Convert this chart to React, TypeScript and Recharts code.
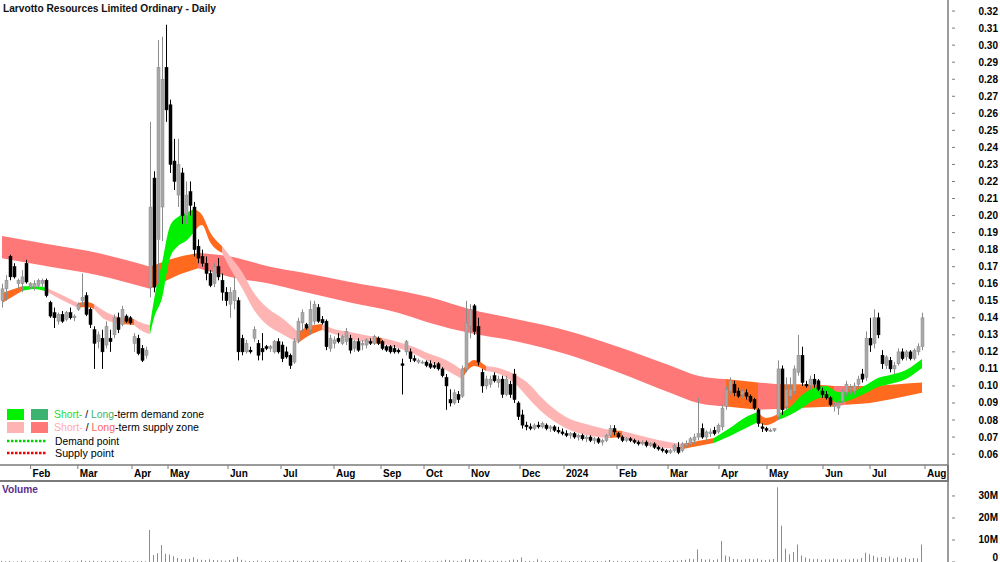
import React from 'react';
import { ComposedChart, Bar, Area, XAxis, YAxis } from 'recharts';

const TITLE = 'Larvotto Resources Limited Ordinary - Daily';

// month tick positions on the bar index scale
const MONTH_TICKS = [7.15, 18.95, 32.5, 41.5, 56.5, 69.75, 83, 94.75, 105.5, 116.75, 129.5, 140.5, 153.75, 166.5, 179.25, 191.25, 205.25, 217, 230.75];
const MONTH_LABELS = ['Feb', 'Mar', 'Apr', 'May', 'Jun', 'Jul', 'Aug', 'Sep', 'Oct', 'Nov', 'Dec', '2024', 'Feb', 'Mar', 'Apr', 'May', 'Jun', 'Jul', 'Aug'];

const PRICE_TICKS = [0.06, 0.07, 0.08, 0.09, 0.1, 0.11, 0.12, 0.13, 0.14, 0.15, 0.16, 0.17, 0.18, 0.19, 0.2, 0.21, 0.22, 0.23, 0.24, 0.25, 0.26, 0.27, 0.28, 0.29, 0.3, 0.31, 0.32];
const VOLUME_TICKS = [0, 10, 20, 30];

// [open, high, low, close]
const PRICE_BARS = [
  [.150,.160,.146,.157],[.157,.165,.150,.162],[.176,.177,.162,.164],[.170,.172,.163,.164],[.160,.163,.157,.162],
  [.160,.168,.155,.164],[.172,.174,.160,.161],[.158,.161,.157,.160],[.158,.162,.156,.160],[.159,.163,.158,.162],
  [.160,.163,.158,.162],[.162,.163,.152,.153],[.149,.150,.140,.141],[.143,.146,.134,.140],[.138,.143,.136,.142],
  [.142,.144,.137,.138],[.139,.144,.138,.143],[.143,.146,.139,.140],[.140,.142,.138,.141],[.145,.149,.144,.148],
  [.150,.166,.147,.152],[.153,.155,.141,.142],[.145,.146,.134,.136],[.133,.135,.110,.125],[.126,.132,.122,.130],
  [.128,.133,.110,.120],[.124,.138,.122,.135],[.128,.133,.120,.126],[.130,.142,.128,.140],[.140,.143,.131,.133],
  [.136,.147,.135,.145],[.141,.142,.137,.138],[.140,.141,.136,.137],[.125,.131,.120,.129],[.128,.130,.118,.119],
  [.122,.124,.114,.115],[.118,.123,.116,.121],[.158,.255,.152,.205],[.222,.226,.155,.158],[.186,.303,.160,.287],
  [.205,.305,.185,.280],[.287,.312,.255,.262],[.265,.268,.225,.230],[.232,.245,.215,.220],[.212,.245,.205,.230],
  [.225,.228,.195,.200],[.200,.220,.195,.212],[.214,.220,.200,.206],[.205,.208,.176,.180],[.182,.186,.172,.175],
  [.176,.180,.170,.172],[.172,.176,.162,.166],[.166,.168,.158,.159],[.160,.172,.158,.170],[.170,.175,.162,.164],
  [.162,.166,.150,.155],[.155,.158,.147,.150],[.148,.158,.140,.155],[.150,.164,.145,.156],[.150,.152,.115,.120],
  [.128,.130,.118,.120],[.120,.127,.119,.125],[.121,.123,.119,.120],[.128,.135,.126,.133],[.125,.127,.115,.118],
  [.122,.131,.115,.120],[.123,.124,.121,.122],[.122,.124,.120,.123],[.120,.127,.119,.126],[.126,.128,.119,.120],
  [.124,.126,.114,.116],[.120,.123,.116,.117],[.118,.119,.110,.112],[.114,.128,.113,.126],[.127,.140,.125,.138],
  [.137,.145,.132,.143],[.136,.137,.133,.134],[.133,.150,.130,.145],[.138,.150,.136,.148],[.146,.148,.137,.138],
  [.139,.141,.136,.137],[.138,.139,.121,.123],[.122,.130,.120,.128],[.125,.129,.122,.127],[.128,.131,.125,.126],
  [.125,.130,.124,.129],[.126,.134,.124,.132],[.128,.130,.119,.121],[.122,.127,.120,.126],[.126,.128,.120,.121],
  [.124,.127,.121,.125],[.124,.128,.122,.127],[.126,.128,.124,.125],[.125,.130,.124,.129],[.128,.129,.124,.125],
  [.126,.127,.121,.122],[.123,.124,.120,.121],[.123,.124,.119,.120],[.122,.124,.119,.120],[.121,.122,.119,.120],
  [.113,.116,.095,.112],[.120,.127,.118,.126],[.120,.122,.114,.116],[.116,.118,.114,.115],[.114,.116,.113,.115],
  [.114,.115,.113,.114],[.114,.115,.111,.112],[.113,.115,.110,.111],[.112,.114,.110,.111],[.113,.114,.109,.110],
  [.110,.111,.105,.106],[.105,.107,.086,.100],[.092,.098,.088,.090],[.090,.098,.089,.096],[.095,.097,.090,.092],
  [.094,.112,.093,.110],[.110,.150,.108,.137],[.135,.148,.128,.145],[.147,.148,.130,.132],[.135,.140,.112,.114],
  [.108,.110,.096,.100],[.100,.106,.098,.104],[.101,.106,.099,.104],[.106,.108,.102,.103],[.102,.106,.099,.104],
  [.104,.106,.093,.095],[.095,.106,.094,.104],[.101,.103,.093,.095],[.107,.110,.090,.092],[.090,.091,.080,.082],
  [.083,.086,.075,.077],[.077,.079,.074,.076],[.076,.078,.074,.075],[.075,.078,.074,.077],[.077,.079,.075,.076],
  [.076,.079,.075,.078],[.077,.078,.074,.075],[.075,.077,.073,.076],[.076,.077,.073,.074],[.074,.076,.072,.073],
  [.073,.075,.071,.072],[.072,.074,.070,.071],[.071,.073,.069,.072],[.072,.073,.069,.070],[.070,.072,.068,.071],
  [.071,.072,.068,.069],[.069,.071,.067,.070],[.070,.071,.067,.068],[.068,.070,.066,.069],[.069,.070,.066,.067],
  [.067,.069,.065,.068],[.068,.072,.067,.071],[.071,.077,.070,.075],[.075,.077,.071,.073],[.072,.073,.069,.070],
  [.070,.071,.067,.068],[.068,.070,.067,.069],[.069,.070,.067,.068],[.068,.069,.066,.067],[.067,.068,.065,.066],
  [.066,.068,.065,.067],[.067,.068,.064,.065],[.065,.067,.064,.066],[.066,.067,.063,.064],[.064,.065,.062,.063],
  [.063,.064,.061,.062],[.062,.063,.060,.061],[.061,.063,.060,.062],[.062,.066,.061,.065],[.064,.067,.060,.061],
  [.062,.067,.061,.066],[.065,.068,.064,.066],[.066,.070,.065,.069],[.068,.072,.066,.070],[.070,.093,.068,.072],
  [.075,.078,.069,.070],[.070,.074,.068,.073],[.072,.075,.070,.073],[.074,.076,.071,.072],[.073,.078,.072,.077],
  [.076,.089,.074,.087],[.088,.100,.086,.098],[.097,.105,.095,.103],[.101,.103,.094,.096],[.097,.099,.093,.094],
  [.095,.098,.093,.097],[.096,.098,.092,.094],[.094,.095,.090,.091],[.092,.093,.086,.087],[.086,.087,.076,.078],
  [.076,.078,.073,.075],[.075,.076,.073,.074],[.074,.075,.073,.074],[.074,.075,.073,.075],[.082,.115,.080,.110],
  [.110,.112,.083,.086],[.088,.105,.086,.098],[.094,.105,.092,.098],[.097,.112,.095,.110],[.108,.130,.106,.118],
  [.118,.123,.100,.102],[.101,.103,.099,.100],[.100,.106,.098,.104],[.104,.107,.099,.101],[.103,.104,.097,.098],
  [.097,.099,.093,.095],[.095,.097,.092,.093],[.093,.094,.088,.089],[.088,.090,.085,.089],[.087,.091,.083,.090],
  [.091,.098,.090,.097],[.096,.103,.094,.101],[.098,.101,.095,.099],[.097,.102,.095,.100],[.101,.106,.099,.104],
  [.107,.110,.102,.104],[.105,.132,.103,.128],[.128,.140,.120,.124],[.125,.145,.122,.140],[.140,.143,.128,.130],
  [.118,.121,.110,.113],[.112,.118,.110,.117],[.115,.117,.108,.110],[.110,.114,.107,.112],[.113,.122,.112,.120],
  [.120,.122,.115,.116],[.117,.121,.115,.120],[.120,.121,.115,.116],[.116,.122,.115,.121],[.120,.125,.118,.123],
  [.123,.143,.121,.140],
];

// volume in millions, one per bar
const VOLUME_M = [
  0.4,0.3,0.5,0.2,0.3,0.6,0.3,0.2,0.4,0.3, 0.2,0.5,0.6,0.4,0.3,0.2,0.3,0.4,0.2,0.3,
  0.8,0.5,0.4,0.6,0.3,0.5,0.4,0.3,0.6,0.4, 0.5,0.3,0.2,0.4,0.3,0.5,0.3,
  14.5,3.2,4.0,7.7,3.8,3.4,2.6,1.8,1.4,1.2,1.5,2.2,
  1.2,1.0,0.8,1.3,0.9,0.8,0.7,0.6,0.9,1.2,2.4,1.0,0.6,
  0.5,0.4,0.7,0.3,0.4,0.5,0.3,0.6,0.4,0.3, 0.5,0.8,0.6,0.4,0.3,0.5,0.7,0.4,0.3,0.5,
  0.4,0.3,0.6,0.4,0.2,0.3,0.5,0.4,0.3,0.2, 0.4,0.3,0.2,0.3,0.4,0.2,0.3,0.5,0.9,0.4,
  0.3,0.2,0.3,0.2,0.4,0.3,0.2,0.5,0.6,1.0, 0.8,0.6,0.5,0.7,
  1.4,1.2,0.9,0.8,1.0,0.6,0.5,0.7,0.4,0.6,0.5,0.8,1.1,0.9,2.0,
  0.4,0.5,0.3,1.3,0.6,0.4,0.5,0.3,0.4,0.6, 0.3,0.4,0.5,0.3,0.4,0.6,0.3,0.5,0.4,0.3,
  0.6,0.9,0.5,0.4,0.3,0.5,0.4,0.3,0.4,0.5, 0.3,0.4,0.6,0.5,0.4,0.3,0.5,0.8,0.6,0.9,
  1.0,1.5,1.2,5.7,1.4,1.0,1.2,0.8,1.3,9.5,3.0,2.5,1.4,1.2,1.0,1.3,1.5,1.2,1.6,1.0,0.8,1.1,1.4,
  34,16.5,6.0,3.5,4.5,8.0,3.0,2.0,1.5,1.2, 1.4,1.0,1.3,1.1,1.6,1.2,1.0,1.3,1.1,1.5,
  1.2,1.8,4.2,3.5,2.8,2.0,2.3,1.8,2.5,1.6, 2.2,1.5,2.0,1.4,1.8,1.6,8.0,
];

// long-term zone: [bar index, lower, upper]
const LONG_BAND = [
  [0,.175,.188],[12,.170,.183],[24,.165,.178],[37,.157,.170],[43,.164,.175],[49,.169,.178],[57,.164,.176],
  [67,.160,.170],[74,.156,.167],[87,.149,.161],[99,.143,.156],[107,.137,.152],[117,.131,.145],[129,.126,.139],
  [142,.118,.132],[154,.108,.123],[167,.096,.112],[174,.090,.106],[181,.088,.104],[189,.086,.102],
  [194,.0865,.101],[199,.087,.101],[208,.088,.100],[211,.089,.100],[217,.090,.100],[224,.093,.101],[230,.096,.102],
];
const LONG_ZONES = [
  [0,37,'red'],[37,49,'orange'],[49,181,'red'],[181,189,'orange'],[189,194,'red'],[194,208,'orange'],[208,211,'red'],[211,230,'orange'],
];

// short-term zone: [bar index, lower, upper]
const SHORT_BAND = [
  [0,.1487,.1545],[5,.1557,.1585],[8,.1569,.1585],[11,.1556,.1578],[15,.1504,.1534],[19,.1457,.1487],[21,.1463,.1492],
  [23,.1452,.1481],[26,.1387,.1434],[30,.1364,.1399],[33,.1358,.1393],[35,.1323,.1370],[37,.1305,.1358],[38,.1399,.1504],
  [40,.1516,.1721],[42,.1751,.1939],[44,.1822,.1992],[46,.1850,.2015],[48,.1904,.2039],[50,.1945,.2004],[52,.1845,.1904],
  [55,.1781,.1822],[57,.1692,.1762],[60,.1575,.1669],[63,.1446,.1545],[67,.1346,.1446],[70,.1305,.1399],[74,.1252,.1317],
  [77,.1299,.1352],[80,.1328,.1364],[83,.1305,.1334],[87,.1276,.1317],[93,.1252,.1288],[95,.1246,.1281],[99,.1223,.1258],
  [103,.1188,.1229],[107,.1141,.1187],[111,.1094,.1152],[115,.1041,.1094],[117,.1105,.1141],[118,.1117,.1152],
  [121,.1088,.1117],[125,.1064,.1100],[128,.1018,.1070],[132,.0918,.1006],[135,.0847,.0929],[141,.0752,.0818],
  [146,.0712,.0776],[152,.0694,.0741],[155,.0700,.0735],[159,.0670,.0712],[164,.0641,.0683],[170,.0629,.0659],
  [174,.0647,.0677],[178,.0665,.0694],[182,.0706,.0753],[186,.0753,.0818],[189,.0788,.0847],[191,.0770,.0812],
  [194,.0800,.0835],[197,.0829,.0876],[200,.0870,.0947],[203,.0918,.0988],[206,.0935,.1000],[209,.0900,.0965],
  [212,.0918,.0965],[216,.0959,.1006],[219,.0994,.1047],[222,.1012,.1064],[226,.1041,.1094],[230,.1105,.1158],
];
const SHORT_ZONES = [
  [0,5,'orange'],[5,11,'green'],[11,19,'pink'],[19,23,'orange'],[23,30,'pink'],[30,33,'orange'],[33,37,'pink'],
  [37,48,'green'],[48,55,'orange'],[55,74,'pink'],[74,80,'orange'],[80,93,'pink'],[93,95,'orange'],[95,115,'pink'],
  [115,121,'orange'],[121,152,'pink'],[152,155,'orange'],[155,170,'pink'],[170,178,'orange'],[178,189,'green'],
  [189,194,'orange'],[194,230,'green'],
];

const ZONE_COLORS: Record<string, string> = {
  red: '#FF7878',
  orange: '#FF6A1E',
  pink: '#FFB4B4',
  green: '#00F000',
};

const rows: any[] = PRICE_BARS.map(([o, h, l, c], i) => ({ i, o, c, hl: [l, h], vol: VOLUME_M[i] }));

const addZones = (prefix: string, band: number[][], zones: any[]) => {
  zones.forEach(([s, e], k) => {
    band.forEach(([i, lo, hi]) => {
      if (i >= s && i <= e) rows[i][`${prefix}${k}`] = [lo, hi];
    });
  });
};
addZones('lt', LONG_BAND, LONG_ZONES);
addZones('st', SHORT_BAND, SHORT_ZONES);

const FONT = '"Liberation Sans", Arial, sans-serif';
const AXIS = '#7a7a7a';

const renderCandle = (props: any) => {
  const { x, y, width, height, payload } = props;
  if (!payload || y == null || height == null) return <g />;
  const [l, h] = payload.hl;
  const top = Math.min(y, y + height);
  const span = Math.abs(height);
  const yOf = (v: number) => top + ((h - v) / (h - l)) * span;
  const cx = Math.round(x + width / 2) + 0.5;
  const up = payload.c >= payload.o;
  const edge = up ? '#8c8c8c' : '#000';
  const bTop = yOf(Math.max(payload.o, payload.c));
  const bH = Math.max(1, yOf(Math.min(payload.o, payload.c)) - bTop);
  return (
    <g>
      <line x1={cx} x2={cx} y1={top} y2={top + span} stroke={edge} strokeWidth={1} />
      <rect x={cx - 1.5} y={bTop} width={3} height={bH} fill={up ? '#a8a8a8' : '#000'} stroke={edge} strokeWidth={0.5} />
    </g>
  );
};

const MonthTick = (props: any) => {
  const { x, y, index } = props;
  return (
    <g>
      <line x1={x} x2={x} y1={y} y2={y + 4} stroke={AXIS} strokeWidth={1} />
      <text x={x + 2} y={y + 12} fontSize={10} fontWeight="bold" fontFamily={FONT} fill="#000">
        {MONTH_LABELS[index]}
      </text>
    </g>
  );
};

const PriceTick = (props: any) => {
  const { x, y, payload } = props;
  return (
    <g>
      <line x1={x + 4} x2={x + 7} y1={y} y2={y} stroke={AXIS} strokeWidth={1} />
      <text x={x + 50} y={y + 3.5} textAnchor="end" fontSize={10} fontWeight="bold" fontFamily={FONT} fill="#000">
        {payload.value.toFixed(2)}
      </text>
    </g>
  );
};

const VolumeTick = (props: any) => {
  const { x, y, payload } = props;
  const zero = payload.value === 0;
  return (
    <g>
      <line x1={x + 4} x2={x + 7} y1={y} y2={y} stroke={AXIS} strokeWidth={1} />
      <text x={x + 50} y={zero ? y - 1.5 : y + 3.5} textAnchor="end" fontSize={10} fontWeight="bold" fontFamily={FONT} fill="#000">
        {zero ? '0' : `${payload.value}M`}
      </text>
    </g>
  );
};

const bandArea = (key: string, color: string) => (
  <Area
    key={key}
    dataKey={key}
    type="monotone"
    stroke="none"
    fill={color}
    fillOpacity={1}
    connectNulls
    dot={false}
    activeDot={false}
    isAnimationActive={false}
  />
);

const App: React.FC = () => {
  return (
    <div style={{ position: 'fixed', left: 0, top: 0, width: 1000, height: 562, background: '#fff', overflow: 'hidden', fontFamily: FONT }}>
      <div style={{ position: 'absolute', left: 0, top: 0 }}>
        <ComposedChart width={1000} height={481} data={rows} margin={{ top: 0, right: 0, bottom: 0, left: 0 }}>
          <XAxis
            dataKey="i"
            type="number"
            domain={[-0.5, 236.5]}
            ticks={MONTH_TICKS}
            interval={0}
            allowDataOverflow
            height={16}
            tickLine={false}
            tickSize={0}
            tickMargin={0}
            axisLine={{ stroke: AXIS, strokeWidth: 1.5 }}
            tick={<MonthTick />}
          />
          <YAxis
            orientation="right"
            type="number"
            domain={[0.0536, 0.3265]}
            ticks={PRICE_TICKS}
            interval={0}
            allowDataOverflow
            width={52}
            tickLine={false}
            tickSize={0}
            tickMargin={0}
            axisLine={{ stroke: AXIS, strokeWidth: 1.5 }}
            tick={<PriceTick />}
          />
          {LONG_ZONES.map((z, k) => bandArea(`lt${k}`, ZONE_COLORS[z[2] as string]))}
          {SHORT_ZONES.map((z, k) => bandArea(`st${k}`, ZONE_COLORS[z[2] as string]))}
          <Bar dataKey="hl" barSize={3} shape={renderCandle} isAnimationActive={false} />
        </ComposedChart>
      </div>

      <div style={{ position: 'absolute', left: 0, top: 480, width: 949, height: 1.5, background: AXIS }} />
      <div style={{ position: 'absolute', left: 947.25, top: 465, width: 1.5, height: 17, background: AXIS }} />

      <div style={{ position: 'absolute', left: 0, top: 481 }}>
        <ComposedChart width={1000} height={81} data={rows} margin={{ top: 0, right: 0, bottom: 0, left: 0 }}>
          <XAxis dataKey="i" type="number" domain={[-0.5, 236.5]} allowDataOverflow hide />
          <YAxis
            orientation="right"
            type="number"
            domain={[0, 36.8]}
            ticks={VOLUME_TICKS}
            interval={0}
            allowDataOverflow
            width={52}
            tickLine={false}
            tickSize={0}
            tickMargin={0}
            axisLine={{ stroke: AXIS, strokeWidth: 1.5 }}
            tick={<VolumeTick />}
          />
          <Bar dataKey="vol" barSize={1} fill="#8282DA" isAnimationActive={false} />
        </ComposedChart>
      </div>

      <svg width={1000} height={562} style={{ position: 'absolute', left: 0, top: 0, pointerEvents: 'none' }}>
        <text x={3} y={11.5} fontSize={10} fontWeight="bold" fontFamily={FONT} fill="#111" textLength={213} lengthAdjust="spacingAndGlyphs">
          {TITLE}
        </text>

        <rect x={7} y={409} width={17} height={11} fill="#00F000" />
        <rect x={31} y={409} width={17} height={11} fill="#3CB371" />
        <text x={54} y={418} fontSize={10.5} fontFamily={FONT} fill="#000" textLength={150} lengthAdjust="spacingAndGlyphs">
          <tspan fill="#1EDC1E">Short-</tspan> / <tspan fill="#3CB371">Long</tspan>-term demand zone
        </text>

        <rect x={7} y={422} width={17} height={11} fill="#FFB4B4" />
        <rect x={31} y={422} width={17} height={11} fill="#FF7878" />
        <text x={54} y={431} fontSize={10.5} fontFamily={FONT} fill="#000" textLength={145} lengthAdjust="spacingAndGlyphs">
          <tspan fill="#FFAAAA">Short-</tspan> / <tspan fill="#FF6262">Long</tspan>-term supply zone
        </text>

        <line x1={7} x2={46} y1={441} y2={441} stroke="#00D000" strokeWidth={2.5} strokeDasharray="2.5 1.5" />
        <text x={55} y={445} fontSize={10.5} fontFamily={FONT} fill="#000" textLength={64} lengthAdjust="spacingAndGlyphs">
          Demand point
        </text>
        <line x1={7} x2={46} y1={453} y2={453} stroke="#F00000" strokeWidth={2.5} strokeDasharray="2.5 1.5" />
        <text x={55} y={457} fontSize={10.5} fontFamily={FONT} fill="#000" textLength={59} lengthAdjust="spacingAndGlyphs">
          Supply point
        </text>

        <text x={2} y={493} fontSize={10} fontWeight="bold" fontFamily={FONT} fill="#5B2D8E" textLength={36} lengthAdjust="spacingAndGlyphs">
          Volume
        </text>
      </svg>
    </div>
  );
};

export default App;
